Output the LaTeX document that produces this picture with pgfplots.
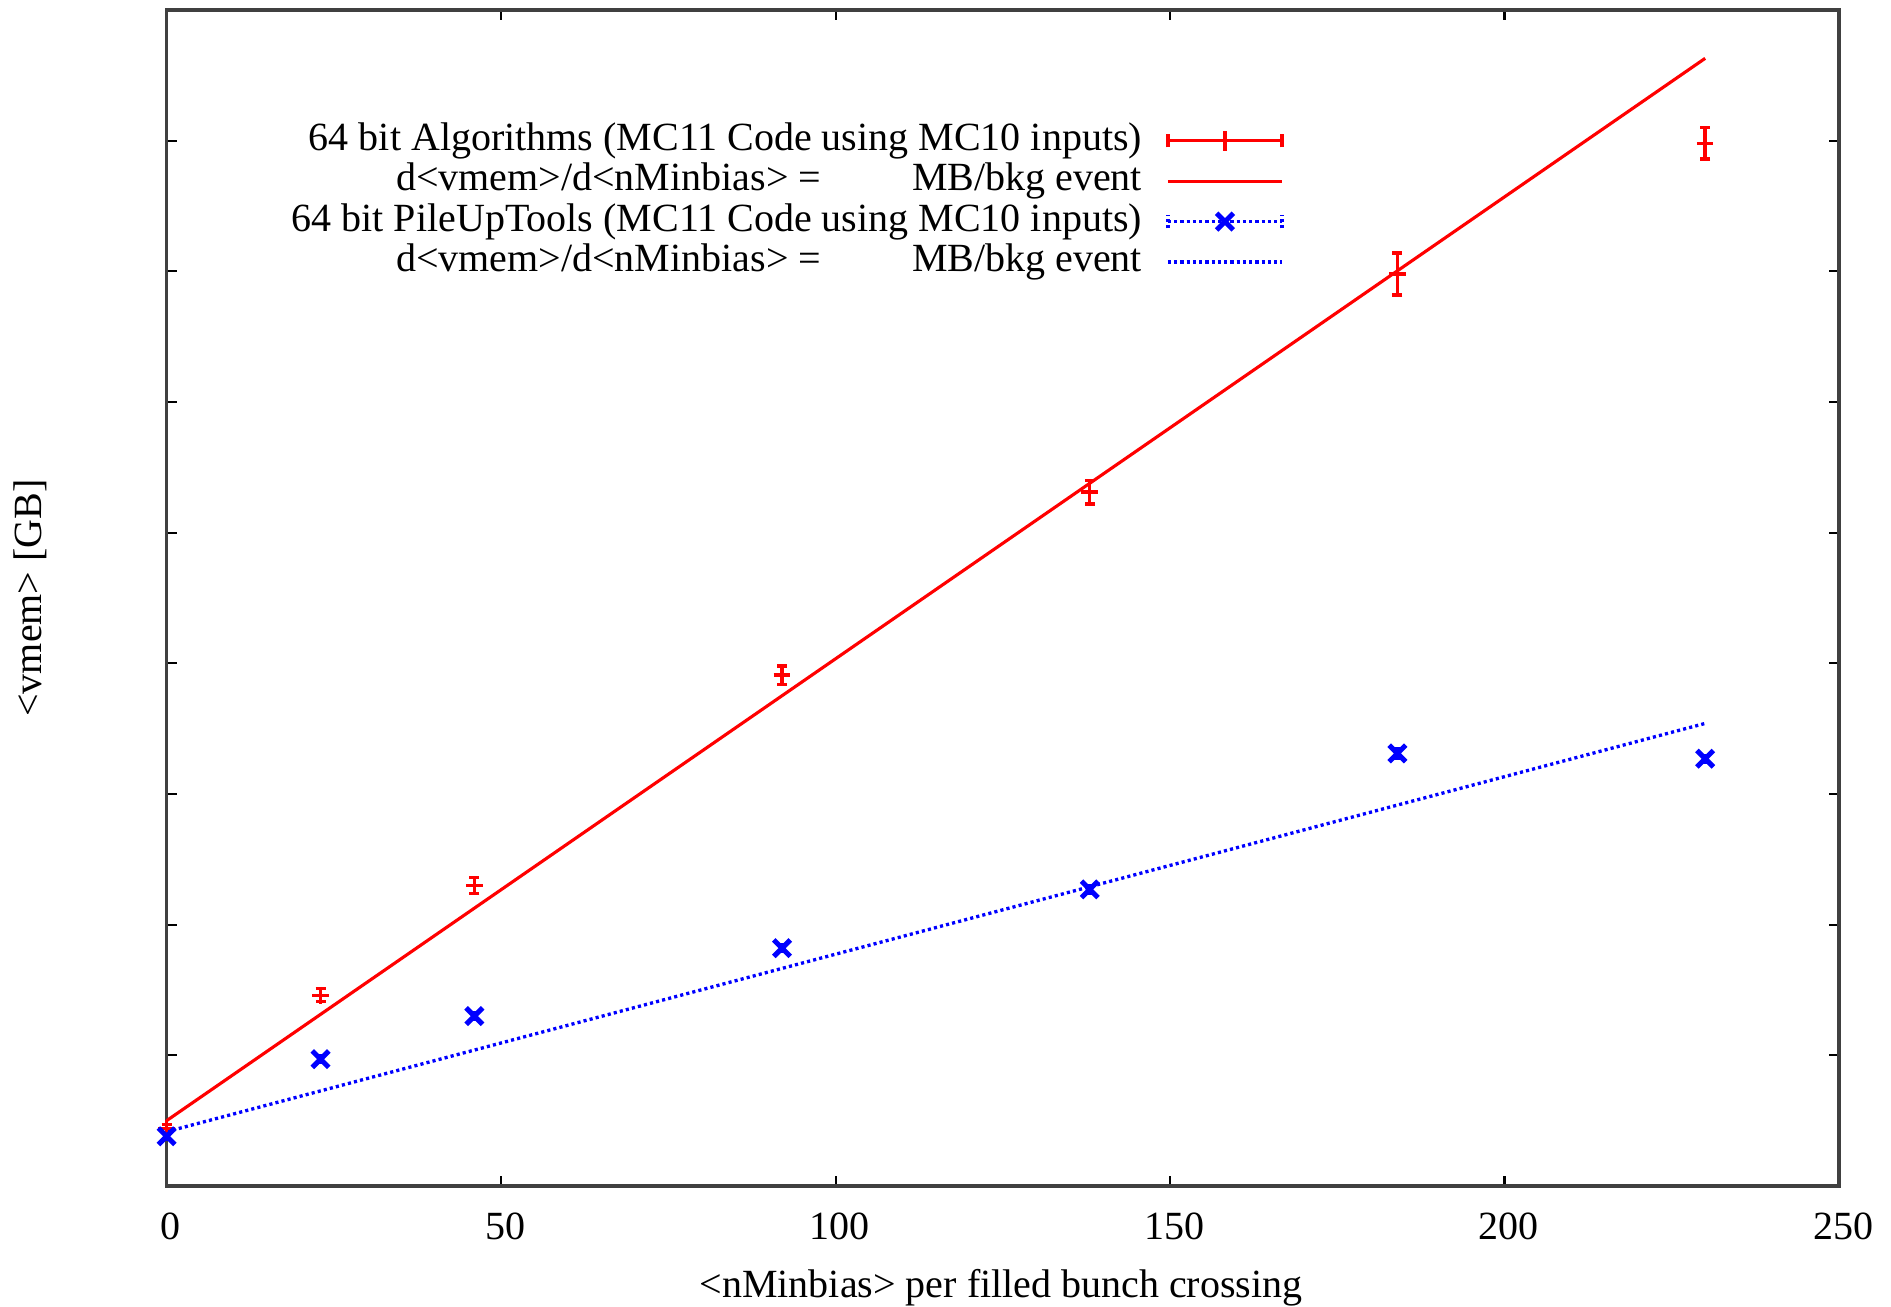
\documentclass[border=0pt]{standalone}
\usepackage{pgfplots}
\pgfplotsset{compat=1.18}
\usepackage{fontspec}
\setmainfont{Liberation Serif}

\tikzset{bluedots/.style={blue, line width=0.8pt, dash pattern=on 0.75pt off 0.75pt}}

\begin{document}
\begin{tikzpicture}
\begin{axis}[
  scale only axis,
  width=401.3pt, height=282.2pt,
  xmin=0, xmax=250, ymin=0, ymax=9,
  xtick={0,50,...,250},
  ytick={1,...,8},
  yticklabels={},
  tick align=inside,
  major tick length=2.5pt,
  tick style={black, line width=0.5pt},
  axis line style={line width=0.8pt, black!75},
  font=\fontsize{9.6}{11}\selectfont,
  /pgf/number format/assume math mode=true,
  xticklabel style={anchor=center, yshift=-9.8pt, xshift=1pt},
  xlabel={<nMinbias> per filled bunch crossing},
  ylabel={<vmem> [GB]},
  xlabel style={at={(axis description cs:0.499,-0.0868)}, anchor=center},
  ylabel style={at={(axis description cs:-0.0817,0.5)}, anchor=center},
  legend style={
    at={(axis description cs:0.668,0.906)}, anchor=north east,
    draw=none, fill=none, inner sep=0pt, outer sep=0pt,
    row sep=0pt, column sep=5.8pt,
    nodes={inner sep=0pt, text height=7.2pt, text depth=2.5pt},
  },
  legend cell align=right,
  legend plot pos=right,
  clip=false,
]
% 64 bit Algorithms
\addplot[red, only marks, mark=+, mark size=2pt, line width=0.8pt,
  legend image code/.code={
    \draw[red, line width=0.8pt] (0pt,0pt) -- (27.4pt,0pt);
    \draw[red, line width=0.8pt] (0pt,-1.6pt) -- (0pt,1.6pt) (27.4pt,-1.6pt) -- (27.4pt,1.6pt);
    \draw[red, line width=0.8pt] (13.7pt,-2.4pt) -- (13.7pt,2.4pt);
  },
  error bars/.cd, y dir=both, y explicit,
  error bar style={line width=0.8pt, red},
  error mark options={rotate=90, mark size=1.2pt, line width=0.8pt, red}]
  coordinates {
  (0,0.44) +- (0,0.03)
  (23,1.46) +- (0,0.05)
  (46,2.30) +- (0,0.06)
  (92,3.91) +- (0,0.07)
  (138,5.31) +- (0,0.09)
  (184,6.98) +- (0,0.16)
  (230,7.98) +- (0,0.12)
  };
\addlegendentry{64 bit Algorithms (MC11 Code using MC10 inputs)}

% linear fit, Algorithms
\addplot[red, line width=0.75pt, mark=none,
  legend image code/.code={\draw[red, line width=0.75pt] (0pt,0pt) -- (27.4pt,0pt);}]
  coordinates {(0,0.50) (230,8.63)};
\addlegendentry{d<vmem>/d<nMinbias> = \hspace{17pt} MB/bkg event}

% 64 bit PileUpTools
\addplot[blue, only marks, mark=x, mark size=2.8pt, line width=1.2pt,
  legend image code/.code={
    \draw[bluedots] (0pt,0pt) -- (27.4pt,0pt);
    \draw[bluedots] (0pt,-1.6pt) -- (0pt,1.6pt) (27.4pt,-1.6pt) -- (27.4pt,1.6pt);
    \draw[blue, line width=1.2pt] (11.7pt,-2pt) -- (15.7pt,2pt) (11.7pt,2pt) -- (15.7pt,-2pt);
  },
  error bars/.cd, y dir=both, y explicit,
  error bar style={line width=0.6pt, blue},
  error mark options={rotate=90, mark size=1.2pt, line width=0.6pt, blue}]
  coordinates {
  (0,0.38) +- (0,0.03)
  (23,0.97) +- (0,0.03)
  (46,1.30) +- (0,0.03)
  (92,1.82) +- (0,0.03)
  (138,2.27) +- (0,0.03)
  (184,3.31) +- (0,0.04)
  (230,3.27) +- (0,0.03)
  };
\addlegendentry{64 bit PileUpTools (MC11 Code using MC10 inputs)}

% linear fit, PileUpTools
\addplot[bluedots, mark=none,
  legend image code/.code={\draw[bluedots] (0pt,0pt) -- (27.4pt,0pt);}]
  coordinates {(0,0.415) (230,3.54)};
\addlegendentry{d<vmem>/d<nMinbias> = \hspace{17pt} MB/bkg event}

\coordinate (bl) at (axis description cs:0,0);
\coordinate (tr) at (axis description cs:1,1);
\end{axis}
\pgfresetboundingbox
\path ([xshift=-40pt,yshift=-29pt]bl) rectangle ([xshift=12.5pt,yshift=2.4pt]tr);
\end{tikzpicture}
\end{document}
